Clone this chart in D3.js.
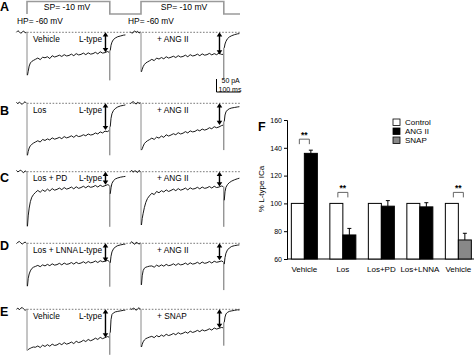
<!DOCTYPE html>
<html><head><meta charset="utf-8">
<script src="https://cdn.jsdelivr.net/npm/d3@7"></script>
<style>body{margin:0;background:#fff}svg{display:block;font-family:"Liberation Sans",Arial,sans-serif}</style>
</head><body>
<script>
// ---------- Data: current traces (time in ms, current in pA) ----------
const preT  = [-44,-38,-32,-26,-20,-14,-8,-2];
const susT  = [2,5,9,14,20,27,35,45,55,65,75,85,95,105,115,125,135,145,155,165,175,185,195,205,215,225,235,245,255,265,275,285,295,305,315,325,335,342];
const tailT = [347,350,354,360,368,378,390,402,410];
const pulseEnd = 345, arrowT = 327;

const A_veh_pre = [0,6,2,-4,1,5,-2,0];
const A_veh = [-165,-150,-130,-118,-112,-108,-104,-99,-105,-96,-98,-94,-101,-90,-95,-92,-88,-93,-86,-91,-89,-84,-90,-82,-87,-85,-80,-86,-79,-84,-82,-77,-83,-75,-80,-78,-74,-77];
const A_veh_tail = [-70,-50,-38,-28,-22,-17,-14,-11,-10];
const A_ang_pre = [2,-4,1,5,0,4,-3,1];
const A_ang = [-152,-142,-132,-124,-118,-114,-110,-104,-109,-99,-103,-97,-102,-94,-99,-96,-92,-97,-90,-95,-93,-88,-94,-86,-91,-89,-84,-90,-83,-88,-86,-81,-87,-82,-86,-80,-85,-85];
const A_ang_tail = [-60,-45,-35,-25,-18,-13,-9,-6,-5];

const B_los_pre = [4,-2,5,0,-4,2,6,0];
const B_los = [-200,-185,-172,-163,-158,-153,-149,-144,-149,-139,-143,-137,-141,-133,-138,-135,-131,-136,-128,-133,-130,-125,-131,-123,-128,-126,-121,-125,-118,-122,-120,-114,-118,-110,-114,-107,-109,-105];
const B_los_tail = [-90,-58,-40,-28,-20,-14,-10,-8,-6];
const B_ang_pre = [-2,4,6,1,-3,4,0,2];
const B_ang = [-180,-175,-165,-155,-149,-144,-140,-134,-139,-130,-134,-126,-131,-121,-126,-122,-117,-121,-113,-118,-115,-109,-114,-106,-110,-108,-102,-106,-99,-103,-100,-94,-98,-90,-94,-91,-86,-84];
const B_ang_tail = [-70,-45,-33,-26,-21,-18,-16,-14,-13];

const C_pd_pre = [5,-1,3,6,0,-4,3,0];
const C_pd = [-210,-170,-140,-115,-98,-88,-80,-72,-79,-70,-76,-67,-74,-65,-71,-68,-63,-69,-61,-67,-64,-59,-66,-58,-64,-61,-56,-62,-55,-60,-58,-53,-59,-52,-57,-54,-50,-52];
const C_pd_tail = [-85,-62,-45,-35,-28,-24,-21,-19,-18];
const C_ang_pre = [1,5,-2,4,1,-3,5,0];
const C_ang = [-205,-180,-160,-138,-118,-103,-93,-83,-88,-76,-81,-73,-78,-70,-76,-72,-67,-73,-65,-71,-68,-63,-70,-62,-67,-65,-60,-66,-59,-64,-62,-57,-63,-56,-61,-59,-55,-57];
const C_ang_tail = [-110,-77,-60,-50,-42,-36,-31,-27,-25];

const D_lnna_pre = [-1,4,7,2,-3,1,5,0];
const D_lnna = [-165,-135,-118,-106,-97,-92,-89,-85,-90,-83,-87,-81,-86,-79,-84,-82,-77,-83,-76,-81,-79,-74,-80,-73,-78,-76,-71,-77,-70,-75,-73,-68,-74,-67,-71,-69,-66,-69];
const D_lnna_tail = [-75,-50,-33,-22,-14,-9,-6,-4,-3];
const D_ang_pre = [2,6,0,-4,4,1,-3,1];
const D_ang = [-160,-125,-105,-96,-92,-90,-88,-87,-92,-84,-89,-83,-88,-81,-86,-84,-79,-85,-78,-83,-81,-76,-82,-75,-80,-78,-73,-79,-72,-77,-75,-70,-76,-69,-73,-71,-68,-71];
const D_ang_tail = [-80,-55,-38,-26,-18,-12,-9,-7,-6];

const E_veh_pre = [0,5,-2,4,7,1,-4,0];
const E_veh = [-158,-155,-152,-150,-147,-145,-146,-141,-147,-138,-143,-136,-142,-134,-139,-137,-131,-136,-128,-134,-131,-126,-132,-123,-128,-125,-119,-124,-116,-121,-117,-111,-116,-108,-113,-109,-105,-107];
const E_veh_tail = [-90,-40,-20,-14,-10,-8,-6,-4,-3];
const E_snap_pre = [4,-1,5,2,-4,2,6,0];
const E_snap = [-145,-135,-125,-118,-113,-110,-107,-104,-109,-101,-106,-99,-104,-96,-101,-98,-93,-98,-90,-95,-92,-87,-92,-84,-89,-86,-81,-86,-79,-83,-80,-75,-80,-72,-76,-73,-70,-71];
const E_snap_tail = [-50,-30,-18,-12,-8,-6,-4,-2,-3];

const spikeMin = {A:[-185,-180], B:[-200,-180], C:[-212,-212], D:[-167,-180], E:[-175,-140]};
const arrowVals = {A:[-77,-85], B:[-103,-83], C:[-50,-57], D:[-71,-65], E:[-108,-72]};

const panelIds = ["A","B","C","D","E"];
const leftLabels  = ["Vehicle","Los","Los + PD","Los + LNNA","Vehicle"];
const rightLabels = ["+ ANG II","+ ANG II","+ ANG II","+ ANG II","+ SNAP"];
const tracePairs = [
  [[A_veh_pre,A_veh,A_veh_tail],[A_ang_pre,A_ang,A_ang_tail]],
  [[B_los_pre,B_los,B_los_tail],[B_ang_pre,B_ang,B_ang_tail]],
  [[C_pd_pre,C_pd,C_pd_tail],[C_ang_pre,C_ang,C_ang_tail]],
  [[D_lnna_pre,D_lnna,D_lnna_tail],[D_ang_pre,D_ang,D_ang_tail]],
  [[E_veh_pre,E_veh,E_veh_tail],[E_snap_pre,E_snap,E_snap_tail]]
];

// voltage protocol
const protoT = [0,0,345,345];
const protoV = [-60,-10,-10,-60];

// ---------- Data: bar chart (panel F) ----------
const groups = ["Vehicle","Los","Los+PD","Los+LNNA","Vehicle"];
const controlVals = [100,100,100,100,100];
const treatVals = [136,77.3,98,97.5,73.7];
const treatErr  = [2.3,4.7,4,3,4.8];
const treatType = ["ANG II","ANG II","ANG II","ANG II","SNAP"];
const sigGroups = [0,1,4];
const yTicks = [60,80,100,120,140,160];
const legendItems = ["Control","ANG II","SNAP"];
const legendFill = {"Control":"#fff","ANG II":"#000","SNAP":"#888"};

// ---------- Drawing ----------
const W=474,H=358;
const svg = d3.select("body").append("svg").attr("width",W).attr("height",H);
const FONT = 8.3;

const xL = d3.scaleLinear().domain([0,100]).range([27,51]);
const xR = d3.scaleLinear().domain([0,100]).range([141,165]);
const bases = [32.3,103.3,171.7,243.3,309.3];
const letterY = [10.5,115,182,250,316];

// protocol
const vScale = d3.scaleLinear().domain([-60,-10]).range([14,1.5]);
const protoPts = [];
[xL,xR].forEach(xs=>protoT.forEach((t,i)=>protoPts.push([xs(t),vScale(protoV[i])])));
protoPts.push([240,vScale(-60)]);
svg.append("path").attr("d",d3.line()(protoPts)).attr("fill","none").attr("stroke","#9a9a9a").attr("stroke-width",1.6);
svg.append("text").attr("x",67).attr("y",10).attr("text-anchor","middle").attr("font-size",8.6).text("SP= -10 mV");
svg.append("text").attr("x",184).attr("y",10).attr("text-anchor","middle").attr("font-size",8.6).text("SP= -10 mV");
svg.append("text").attr("x",17).attr("y",23.5).attr("font-size",8.4).text("HP= -60 mV");
svg.append("text").attr("x",128).attr("y",23.5).attr("font-size",8.4).text("HP= -60 mV");

const line = d3.line();
function arrow(g,x,y1,y2){
  g.append("line").attr("x1",x).attr("x2",x).attr("y1",y1+2).attr("y2",y2-2).attr("stroke","#000").attr("stroke-width",1.4);
  g.append("path").attr("d",`M${x},${y1}L${x-2.8},${y1+4.2}L${x+2.8},${y1+4.2}Z`).attr("fill","#000");
  g.append("path").attr("d",`M${x},${y2}L${x-2.8},${y2-4.2}L${x+2.8},${y2-4.2}Z`).attr("fill","#000");
}

panelIds.forEach((pid,pi)=>{
  const base = bases[pi];
  const y = d3.scaleLinear().domain([0,-50]).range([base,base+13]);
  const g = svg.append("g");
  g.append("text").attr("x",0).attr("y",letterY[pi]).attr("font-size",12.5).attr("font-weight","bold").text(pid);
  g.append("line").attr("x1",xL(0)).attr("x2",240).attr("y1",y(0)).attr("y2",y(0))
    .attr("stroke","#555").attr("stroke-width",0.8).attr("stroke-dasharray","1.6,1.6");
  [xL,xR].forEach((xs,si)=>{
    const [pre,sus,tail] = tracePairs[pi][si];
    const preP = preT.map((t,i)=>[xs(t),y(pre[i])]);
    g.append("path").attr("d",line(preP)).attr("fill","none").attr("stroke","#000").attr("stroke-width",0.9);
    g.append("line").attr("x1",xs(0)).attr("x2",xs(0)).attr("y1",y(0)).attr("y2",y(sus[0]))
      .attr("stroke","#8a8a8a").attr("stroke-width",1);
    const n = Math.min(susT.length,sus.length);
    const susP = susT.slice(0,n).map((t,i)=>[xs(t),y(sus[i])]);
    g.append("path").attr("d",line(susP)).attr("fill","none").attr("stroke","#000").attr("stroke-width",0.9);
    const sm = spikeMin[pid][si];
    g.append("line").attr("x1",xs(pulseEnd)).attr("x2",xs(pulseEnd))
      .attr("y1",y(Math.max(sus[n-1],tail[0]))).attr("y2",y(sm))
      .attr("stroke","#6a6a6a").attr("stroke-width",1);
    const tailP = tailT.map((t,i)=>[xs(t),y(tail[i])]);
    g.append("path").attr("d",line(tailP)).attr("fill","none").attr("stroke","#000").attr("stroke-width",0.9);
    arrow(g,xs(arrowT),y(0),y(arrowVals[pid][si]));
  });
  g.append("text").attr("x",33).attr("y",base+9.3).attr("font-size",FONT).text(leftLabels[pi]);
  g.append("text").attr("x",102).attr("y",base+9.3).attr("text-anchor","end").attr("font-size",FONT).text("L-type");
  g.append("text").attr("x",157).attr("y",base+9.3).attr("font-size",FONT).text(rightLabels[pi]);
});

// scale bar
{
  const yS = d3.scaleLinear().domain([0,50]).range([92,79]);
  const xS = d3.scaleLinear().domain([0,100]).range([216.5,240.5]);
  svg.append("path").attr("d",`M${xS(0)},${yS(50)}V${yS(0)}H${xS(100)}`).attr("fill","none").attr("stroke","#000").attr("stroke-width",1);
  svg.append("text").attr("x",221.5).attr("y",83).attr("font-size",7).text("50 pA");
  svg.append("text").attr("x",218.5).attr("y",91.5).attr("font-size",7).text("100 ms");
}

// ---------- Panel F ----------
const fx = d3.scaleBand().domain(d3.range(groups.length)).range([285.1,477.6]).padding(0);
const fy = d3.scaleLinear().domain([60,160]).range([259,120]);
const bw = 13;
const gF = svg.append("g");
gF.append("text").attr("x",258).attr("y",131).attr("font-size",12.5).attr("font-weight","bold").text("F");
const yAxis = d3.axisLeft(fy).tickValues(yTicks).tickSize(3).tickPadding(2);
const ya = gF.append("g").attr("transform","translate(287,0)").call(yAxis);
ya.select(".domain").attr("stroke","#000");
ya.selectAll("text").attr("font-size",7).attr("font-family","Liberation Sans, Arial, sans-serif");
gF.append("line").attr("x1",287).attr("x2",W).attr("y1",fy(60)).attr("y2",fy(60)).attr("stroke","#000");
gF.append("text").attr("transform","translate(264,189) rotate(-90)").attr("text-anchor","middle").attr("font-size",8).text("% L-type ICa");

groups.forEach((gname,i)=>{
  const c = fx(i)+fx.bandwidth()/2;
  gF.append("rect").attr("x",c-bw).attr("y",fy(controlVals[i])).attr("width",bw).attr("height",fy(60)-fy(controlVals[i]))
    .attr("fill",legendFill["Control"]).attr("stroke","#000").attr("stroke-width",1);
  gF.append("rect").attr("x",c).attr("y",fy(treatVals[i])).attr("width",bw).attr("height",fy(60)-fy(treatVals[i]))
    .attr("fill",legendFill[treatType[i]]).attr("stroke","#000").attr("stroke-width",1);
  const ex = c+bw/2, et = fy(treatVals[i]+treatErr[i]);
  gF.append("line").attr("x1",ex).attr("x2",ex).attr("y1",fy(treatVals[i])).attr("y2",et).attr("stroke","#000").attr("stroke-width",1);
  gF.append("line").attr("x1",ex-2).attr("x2",ex+2).attr("y1",et).attr("y2",et).attr("stroke","#000").attr("stroke-width",1);
  gF.append("text").attr("x",c).attr("y",271.5).attr("text-anchor","middle").attr("font-size",8).text(gname);
});
sigGroups.forEach(i=>{
  const c = fx(i)+fx.bandwidth()/2;
  const top = Math.max(controlVals[i], treatVals[i]+treatErr[i]);
  const yb = fy(top)-6, yt = yb-5;
  gF.append("path").attr("d",`M${c-5},${yb}V${yt}H${c+5}V${yb}`).attr("fill","none").attr("stroke","#555").attr("stroke-width",0.9);
  gF.append("text").attr("x",c).attr("y",yt-1.5).attr("text-anchor","middle").attr("font-size",8.5).attr("font-weight","bold").text("**");
});
legendItems.forEach((name,i)=>{
  const yy = 119+i*9;
  gF.append("rect").attr("x",393).attr("y",yy).attr("width",7).attr("height",6.5)
    .attr("fill",legendFill[name]).attr("stroke","#000").attr("stroke-width",0.8);
  gF.append("text").attr("x",405).attr("y",yy+6.3).attr("font-size",8).text(name);
});
</script>
</body></html>
